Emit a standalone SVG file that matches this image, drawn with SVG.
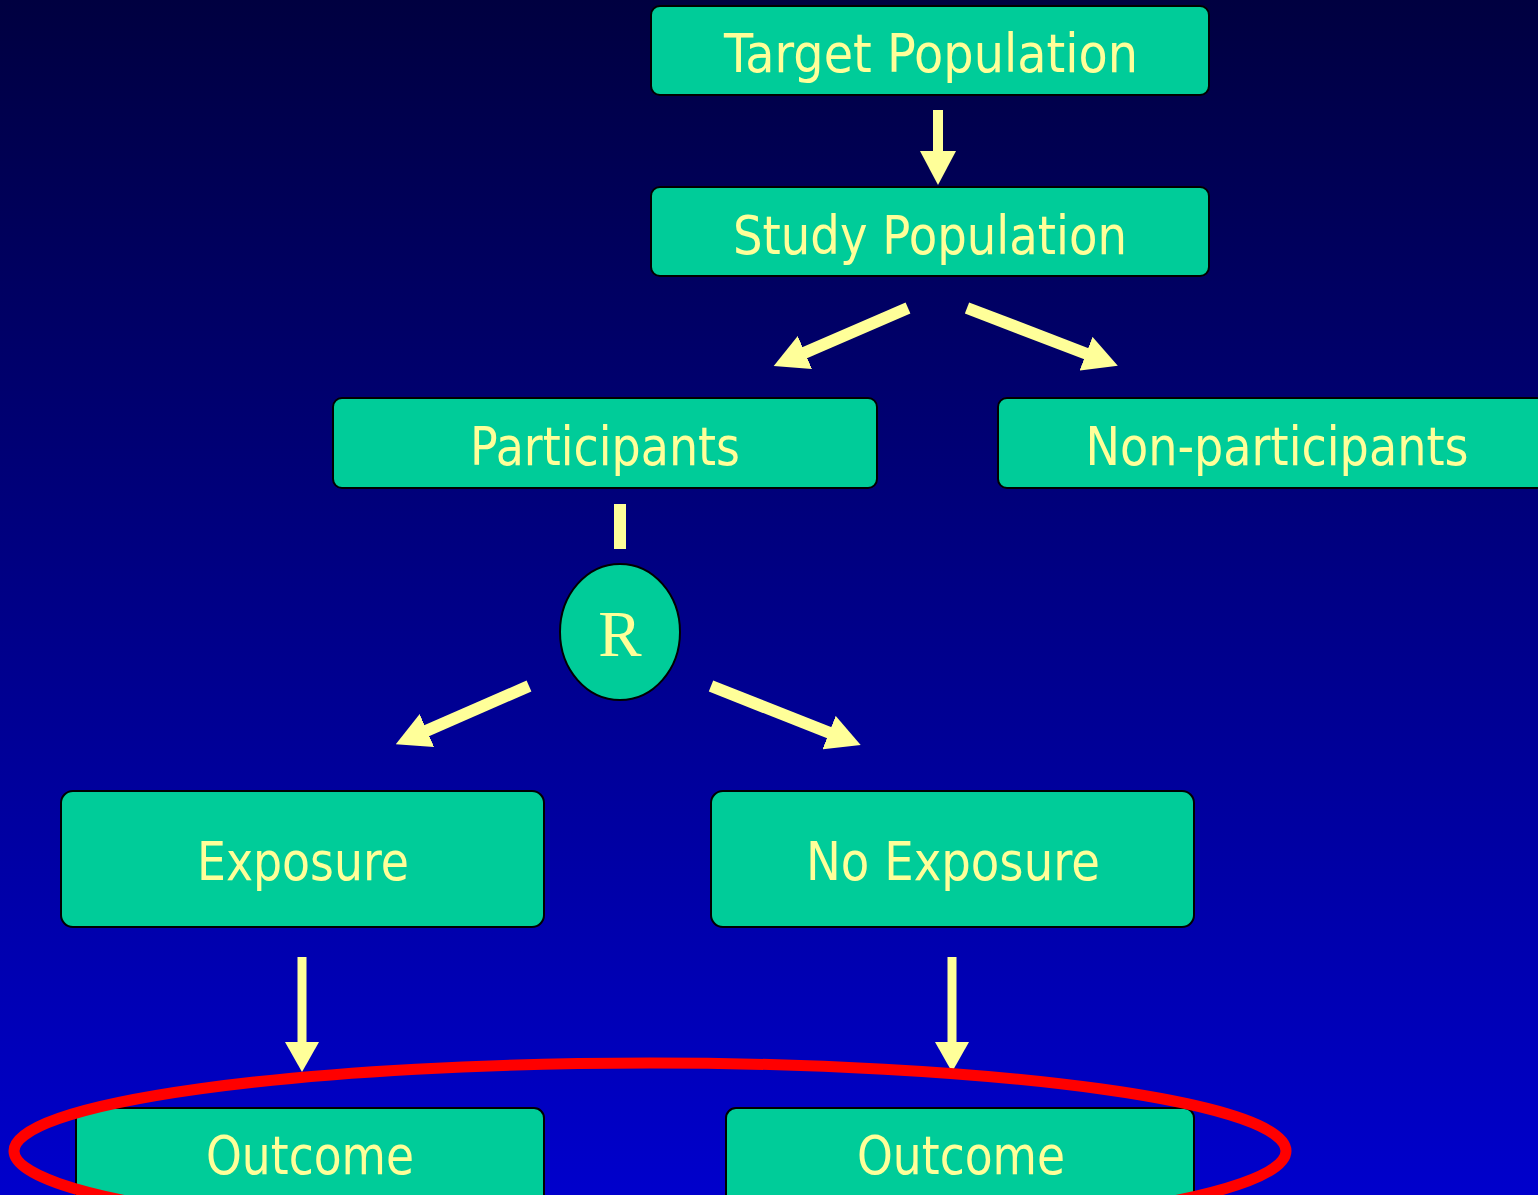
<svg xmlns="http://www.w3.org/2000/svg" width="1538" height="1195" viewBox="0 0 1538 1195">
<defs>
<linearGradient id="bg" x1="0" y1="0" x2="0" y2="1">
<stop offset="0" stop-color="#000040"/>
<stop offset="1" stop-color="#0000CC"/>
</linearGradient>
<marker id="ah" viewBox="0 0 34 36" refX="1" refY="18" markerWidth="34" markerHeight="36" markerUnits="userSpaceOnUse" orient="auto">
<path d="M0,0 L34,18 L0,36 Z" fill="#FFFF99"/>
</marker>
<marker id="ahs" viewBox="0 0 30 34" refX="1" refY="17" markerWidth="30" markerHeight="34" markerUnits="userSpaceOnUse" orient="auto">
<path d="M0,0 L30,17 L0,34 Z" fill="#FFFF99"/>
</marker>
<style>
.box{fill:#00CC99;stroke:#000;stroke-width:2}
.lbl{font-family:"DejaVu Sans","Liberation Sans",sans-serif;font-size:53px;fill:#FFFF99;text-anchor:middle}
.con{stroke:#FFFF99;fill:none}
</style>
</defs>
<rect x="0" y="0" width="1538" height="1195" fill="url(#bg)"/>
<g id="connectors">
<line class="con" x1="938" y1="110" x2="938" y2="152" stroke-width="10" marker-end="url(#ah)"/>
<line class="con" x1="908" y1="308" x2="804" y2="353" stroke-width="12" marker-end="url(#ah)"/>
<line class="con" x1="967" y1="308" x2="1087" y2="354" stroke-width="12" marker-end="url(#ah)"/>
<line class="con" x1="620" y1="504" x2="620" y2="549" stroke-width="12"/>
<line class="con" x1="529" y1="686" x2="426" y2="731" stroke-width="12" marker-end="url(#ah)"/>
<line class="con" x1="711" y1="686" x2="830" y2="733" stroke-width="12" marker-end="url(#ah)"/>
<line class="con" x1="302" y1="957" x2="302" y2="1043" stroke-width="9" marker-end="url(#ahs)"/>
<line class="con" x1="952" y1="957" x2="952" y2="1043" stroke-width="9" marker-end="url(#ahs)"/>
</g>
<g id="target">
<rect class="box" x="651" y="6" width="558" height="89" rx="9"/>
<text class="lbl" x="931" y="72" textLength="414" lengthAdjust="spacingAndGlyphs">Target Population</text>
</g>
<g id="study">
<rect class="box" x="651" y="187" width="558" height="89" rx="9"/>
<text class="lbl" x="930" y="254" textLength="394" lengthAdjust="spacingAndGlyphs">Study Population</text>
</g>
<g id="participants">
<rect class="box" x="333" y="398" width="544" height="90" rx="9"/>
<text class="lbl" x="605" y="465" textLength="270" lengthAdjust="spacingAndGlyphs">Participants</text>
</g>
<g id="nonparticipants">
<rect class="box" x="998" y="398" width="560" height="90" rx="9"/>
<text class="lbl" x="1277" y="465" textLength="383" lengthAdjust="spacingAndGlyphs">Non-participants</text>
</g>
<g id="randomize">
<ellipse class="box" cx="620" cy="632" rx="60" ry="68"/>
<text x="620" y="656" font-family="'Liberation Serif',serif" font-size="65" fill="#FFFF99" text-anchor="middle">R</text>
</g>
<g id="exposure">
<rect class="box" x="61" y="791" width="483" height="136" rx="12"/>
<text class="lbl" x="303" y="880" textLength="212" lengthAdjust="spacingAndGlyphs">Exposure</text>
</g>
<g id="noexposure">
<rect class="box" x="711" y="791" width="483" height="136" rx="12"/>
<text class="lbl" x="953" y="880" textLength="294" lengthAdjust="spacingAndGlyphs">No Exposure</text>
</g>
<g id="outcome1">
<rect class="box" x="76" y="1108" width="468" height="120" rx="10"/>
<text class="lbl" x="310" y="1174" textLength="208" lengthAdjust="spacingAndGlyphs">Outcome</text>
</g>
<g id="outcome2">
<rect class="box" x="726" y="1108" width="468" height="120" rx="10"/>
<text class="lbl" x="961" y="1174" textLength="208" lengthAdjust="spacingAndGlyphs">Outcome</text>
</g>
<g id="highlight">
<ellipse cx="650" cy="1151" rx="636" ry="88" fill="none" stroke="#FF0000" stroke-width="11"/>
</g>
</svg>
